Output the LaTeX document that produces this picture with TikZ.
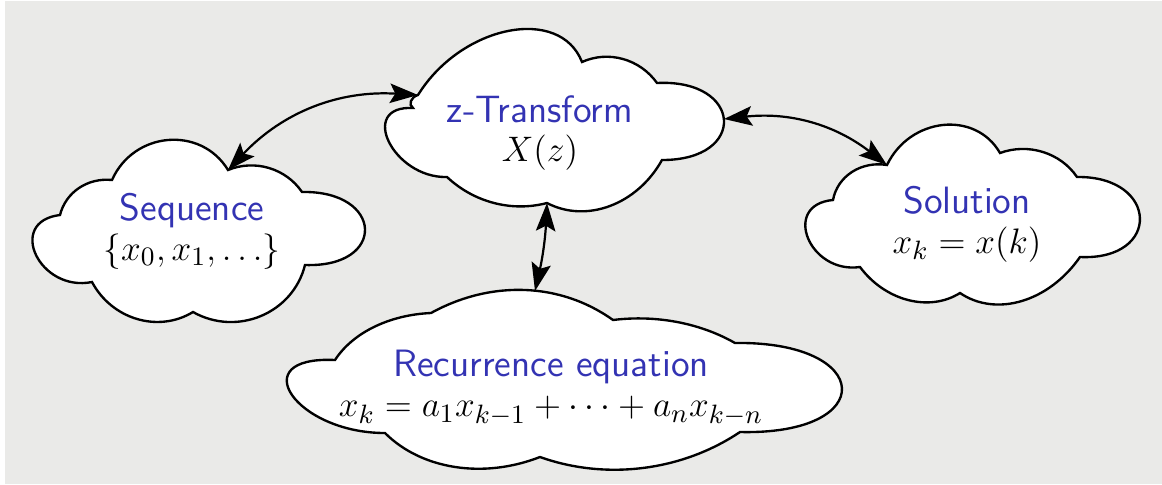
\documentclass[tikz,border=0pt]{standalone}
\usetikzlibrary{calc,arrows.meta}
\definecolor{bgray}{RGB}{234,234,232}
\definecolor{sblue}{RGB}{51,51,179}
% one puff of a cloud: from #1 to #2, bulging through #3; #4 = roundness (negative: flatter arc, positive: fuller lobe)
\newcommand\puff[4]{.. controls ($(#1)+1.3333*(#3)-0.6667*(#1)-0.6667*(#2)-#4*(#2)+#4*(#1)$) and ($(#2)+1.3333*(#3)-0.6667*(#1)-0.6667*(#2)+#4*(#2)-#4*(#1)$) .. (#2)}
\begin{document}
\begin{tikzpicture}[x=0.0119cm,y=-0.0119cm,
  cloudline/.style={draw=black,fill=white,line width=0.8pt,line join=miter},
  label/.style={align=center,inner sep=0pt,font=\fontsize{12.9}{13.5}\selectfont},
  link/.style={{Stealth[length=9.5pt,width=6.6pt,inset=1.8pt]}-{Stealth[length=9.5pt,width=6.6pt,inset=1.8pt]},line width=0.75pt}]
\useasboundingbox (0,0) rectangle (1162,484);
\fill[bgray] (5,1) rectangle (1162,484);
% z-Transform cloud
\draw[cloudline] (418,95) \puff{418,95}{582,62}{508,31}{-0.2} \puff{582,62}{657,83}{623,59}{-0.29}
  \puff{657,83}{662,160}{724,120}{0.03} \puff{662,160}{547,203}{610,206}{-0.28}
  \puff{547,203}{447,177}{494,203}{-0.31} \puff{447,177}{413,108}{389,142}{0.03}
  \puff{413,108}{418,95}{411,101}{-0.2} -- cycle;
% Sequence cloud
\draw[cloudline] (112,180) \puff{112,180}{228,170}{168,140}{-0.21} \puff{228,170}{302,192}{269,168}{-0.29}
  \puff{302,192}{305,265}{365,229}{0.03} \puff{305,265}{193,312}{261,316}{-0.25}
  \puff{193,312}{92,282}{137,319}{-0.27} \puff{92,282}{60,215}{36,255}{0.03}
  \puff{60,215}{112,180}{79,188}{-0.29} -- cycle;
% Solution cloud
\draw[cloudline] (887,165) \puff{887,165}{1000,153}{943,125}{-0.21} \puff{1000,153}{1077,177}{1043,152}{-0.29}
  \puff{1077,177}{1080,257}{1140,218}{0.03} \puff{1080,257}{960,293}{1022,301}{-0.28}
  \puff{960,293}{860,267}{908,300}{-0.28} \puff{860,267}{833,200}{808,238}{0.02}
  \puff{833,200}{887,165}{852,172}{-0.28} -- cycle;
% Recurrence cloud
\draw[cloudline] (431,313) \puff{431,313}{613,320}{525,290}{-0.31} \puff{613,320}{735,343}{677,322}{-0.32}
  \puff{735,343}{740,432}{842,388}{0.03} \puff{740,432}{540,457}{643,468}{-0.31}
  \puff{540,457}{385,433}{455,467}{-0.3} \puff{385,433}{335,360}{292,395}{0.03}
  \puff{335,360}{431,313}{374,327}{-0.31} -- cycle;
% connector ends on the cloud outlines
\coordinate (seqTR) at (228,170);
\coordinate (ztL) at (418,95);
\coordinate (ztR) at (724,119);
\coordinate (solTL) at (887,165);
\coordinate (ztB) at (547,203);
\coordinate (recT) at (535,291);
% texts
\node[label] (ztt) at (540,133) {{\sffamily\color{sblue}z-Transform}\\$X(z)$};
\node[label] (seqt) at (192,231) {{\sffamily\color{sblue}Sequence}\\$\{x_0,x_1,\ldots\}$};
\node[label] (solt) at (967,224) {{\sffamily\color{sblue}Solution}\\$x_k=x(k)$};
\node[label] (rect) at (551,388) {{\sffamily\color{sblue}Recurrence equation}\\$x_k=a_1x_{k-1}+\cdots+a_nx_{k-n}$};
% connectors
\draw[link] (seqTR) to[bend left=25] (ztL);
\draw[link] (ztR) to[bend left=22] (solTL);
\draw[link] (ztB) to[bend left=5] (recT);
\end{tikzpicture}
\end{document}
